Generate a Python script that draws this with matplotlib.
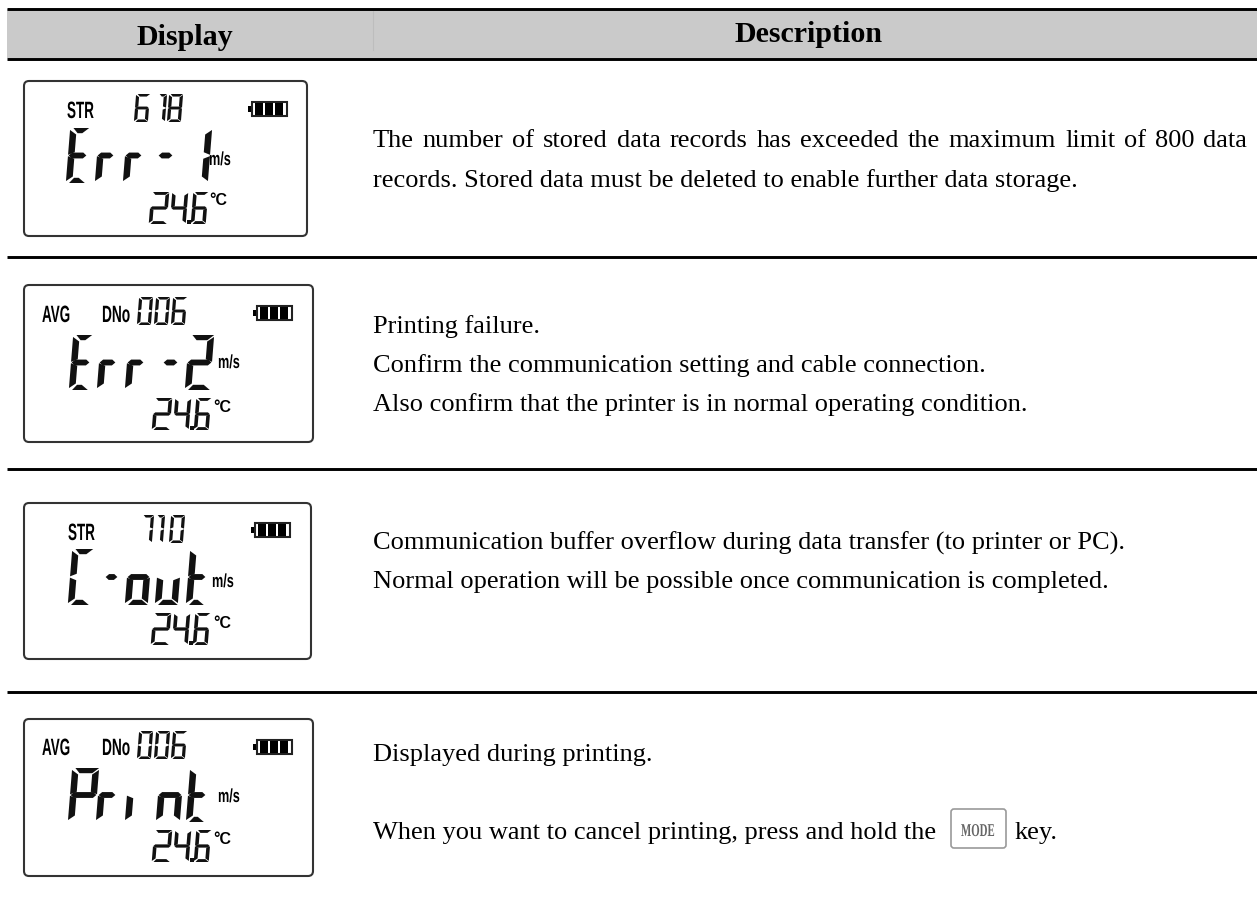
import matplotlib
matplotlib.use('Agg')
from matplotlib import pyplot as plt
from matplotlib.patches import FancyBboxPatch, Rectangle
from matplotlib.patheffects import AbstractPathEffect
from matplotlib.transforms import Affine2D

# table text
headers = ['Display', 'Description']
descriptions = [
    ['The number of stored data records has exceeded the maximum limit of 800 data',
     'records. Stored data must be deleted to enable further data storage.'],
    ['Printing failure.',
     'Confirm the communication setting and cable connection.',
     'Also confirm that the printer is in normal operating condition.'],
    ['Communication buffer overflow during data transfer (to printer or PC).',
     'Normal operation will be possible once communication is completed.'],
    ['Displayed during printing.',
     'When you want to cancel printing, press and hold the'],
]
key_label = 'MODE'
key_tail = 'key.'

# lcd contents
mode_labels = ['STR', 'AVG', 'STR', 'AVG']
dno_labels = ['', 'DNo', '', 'DNo']
top_numbers = ['678', '006', '770', '006']
main_words = ['Err-1', 'Err-2', 'C-out', 'Print']
temperature = '24.6'
unit_speed = 'm/s'
unit_temp = '°C'

# layout in pixels of the picture
line_ys = [9, 58.5, 256.5, 468.5, 691.5]
box_rects = [(24, 81, 283, 155), (24, 285, 289, 157), (24, 503, 287, 156), (24, 719, 289, 157)]
text_baselines = [[147, 187], [333, 372, 411], [550, 588], [761, 839]]
main_xs = [[68, 97, 125, 158, 190], [71, 99, 127, 163, 187], [70, 105, 127, 157, 188], [70, 98, 127, 158, 188]]
main_ws = [[19, 17, 17, 15, 20], [19, 17, 17, 15, 25], [21, 13, 23, 23, 18], [27, 18, 10, 24, 18]]
main_tops = [128, 335, 549, 768]
main_h = [55, 55, 56, 54]
num_xs = [[135, 157, 168], [138, 155, 172], [141, 155, 170], [138, 155, 172]]
num_ws = [[14, 9, 14], [14, 14, 14], [12, 9, 14], [14, 14, 14]]
num_tops = [94, 297, 515, 731]
mode_x = [67, 42, 68, 42]
mode_base = [118, 322, 540, 755]
speed_xy = [(209, 165), (218, 368), (212, 587), (218, 802)]
temp_xs = [[150, 171, 187, 192], [153, 174, 190, 195], [152, 173, 189, 194], [153, 174, 190, 195]]
temp_tops = [192, 398, 613, 830]
deg_xy = [(209, 205), (213, 412), (213, 628), (213, 844)]
batt_xy = [(248, 101), (253, 305), (251, 522), (253, 739)]

SEGS = {'E': 'afged', 'r': 'eg', '-': 'g', '1': 'bc', '2': 'abged', '4': 'fgbc',
        '6': 'afgedc', '5': 'afgcd', '7': 'abc', '8': 'abcdefg', '0': 'abcdef',
        'C': 'afed', 'o': 'gecd', 'u': 'edc', 't': 'fged', 'P': 'abfge',
        'i': 'e', 'n': 'egc'}


class Squeeze(AbstractPathEffect):
    # narrows a text about its left edge, there is no narrow font to use
    def __init__(self, x0, sx):
        super().__init__()
        self.x0 = x0
        self.sx = sx

    def draw_path(self, renderer, gc, tpath, affine, rgbFace=None):
        squeeze = Affine2D().translate(-self.x0, 0).scale(self.sx, 1).translate(self.x0, 0)
        renderer.draw_path(gc, tpath, affine + squeeze, rgbFace)


def seg_points(s, w, h, t):
    m = h / 2
    if s == 'a':
        return [(0.5*t, 0), (w, 0), (w-t, t*0.8), (t*1.2, t*0.8)]
    if s == 'd':
        return [(0.5*t, h), (w, h), (w-t, h-t*0.8), (t*1.2, h-t*0.8)]
    if s == 'g':
        return [(0.1*t, m), (0.6*t, m-t*0.45), (w-0.6*t, m-t*0.45), (w-0.1*t, m), (w-0.6*t, m+t*0.45), (0.6*t, m+t*0.45)]
    if s == 'f':
        return [(0, 0.3*t), (t, 1.0*t), (t, m-0.5*t), (0, m-0.1*t)]
    if s == 'e':
        return [(0, m+0.1*t), (t, m+0.5*t), (t, h-1.0*t), (0, h-0.3*t)]
    if s == 'b':
        return [(w, 0.3*t), (w-t, 1.0*t), (w-t, m-0.5*t), (w, m-0.1*t)]
    return [(w, m+0.1*t), (w-t, m+0.5*t), (w-t, h-1.0*t), (w, h-0.3*t)]


def draw_glyph(ax, ch, x, y, w, h, t, slant=0.08):
    for s in SEGS[ch]:
        pts = seg_points(s, w, h, t)
        xs = [x + p[0] + slant*(h-p[1]) - slant*h*0.5 for p in pts]
        ys = [y + p[1] for p in pts]
        ax.fill(xs, ys, color='#111111', lw=0)


def draw_battery(ax, x, y):
    ax.add_patch(Rectangle((x, y+5), 4, 6, fc='black', ec='none'))
    ax.add_patch(Rectangle((x+4, y+1), 35, 14, fc='white', ec='#222222', lw=1.5))
    for cx in (x+7, x+17, x+27):
        ax.add_patch(Rectangle((cx, y+2), 8, 12, fc='black', ec='none'))


def narrow_text(ax, x, y, s, size, sx, **kw):
    ax.text(x, y, s, size=size, va='baseline', path_effects=[Squeeze(x, sx)], **kw)


fig = plt.figure(figsize=(12.57, 8.99), dpi=100)
ax = fig.add_axes([0, 0, 1, 1])
ax.set_xlim(0, 1257)
ax.set_ylim(899, 0)
ax.axis('off')

serif = 'Liberation Serif'
sans = 'Liberation Sans'
BODY = 19
HEAD = 21.6

# header band and rules
ax.add_patch(Rectangle((7, 9), 1250, 49, fc='#cacaca', ec='none'))
ax.plot([373, 373], [10, 50], color='#bdbdbd', lw=0.8)
for ly in line_ys:
    ax.plot([7, 1257], [ly, ly], color='black', lw=2.1, solid_capstyle='butt')
ax.text(184.5, 45, headers[0], family=serif, weight='bold', size=HEAD, ha='center', va='baseline')
ax.text(809, 42, headers[1], family=serif, weight='bold', size=HEAD, ha='center', va='baseline')

# description text
renderer = fig.canvas.get_renderer()
for r, lines in enumerate(descriptions):
    for l, line in enumerate(lines):
        y = text_baselines[r][l]
        if r == 0 and l == 0:
            # first line is justified to the right edge, so set it word by word
            words = line.split(' ')
            items = [ax.text(373, y, w, family=serif, size=BODY, va='baseline') for w in words]
            widths = [it.get_window_extent(renderer).width for it in items]
            gap = (1247 - 373 - sum(widths)) / (len(words) - 1)
            x = 373
            for it, wd in zip(items, widths):
                it.set_x(x)
                x += wd + gap
        else:
            ax.text(373, y, line, family=serif, size=BODY, va='baseline')

# key symbol
ax.add_patch(FancyBboxPatch((951, 809), 55, 39, boxstyle='round,pad=0,rounding_size=3',
                            fc='white', ec='#9a9a9a', lw=1.2))
narrow_text(ax, 961, 836, key_label, 13, 0.6, family=serif, weight='bold', color='#666666')
ax.text(1015, 839, key_tail, family=serif, size=BODY, va='baseline')

# lcd panels
for i in range(4):
    bx, by, bw, bh = box_rects[i]
    ax.add_patch(FancyBboxPatch((bx, by), bw, bh, boxstyle='round,pad=0,rounding_size=5',
                                fc='white', ec='#333333', lw=1.5))
    narrow_text(ax, mode_x[i], mode_base[i], mode_labels[i], 17, 0.57, family=sans, weight='bold')
    if dno_labels[i]:
        narrow_text(ax, 102, mode_base[i], dno_labels[i], 17, 0.58, family=sans, weight='bold')
    for ch, x, w in zip(top_numbers[i], num_xs[i], num_ws[i]):
        draw_glyph(ax, ch, x, num_tops[i], w, 28, 3.2)
    for ch, x, w in zip(main_words[i], main_xs[i], main_ws[i]):
        draw_glyph(ax, ch, x, main_tops[i], w, main_h[i], 6.5)
    for ch, x, w in zip(temperature, temp_xs[i], [18, 16, 3, 15]):
        if ch == '.':
            ax.add_patch(Rectangle((x, temp_tops[i]+28), 3.5, 4, fc='#111111', ec='none'))
        else:
            draw_glyph(ax, ch, x, temp_tops[i], w, 32, 3.6)
    narrow_text(ax, speed_xy[i][0], speed_xy[i][1], unit_speed, 13.6, 0.67, family=sans, weight='bold')
    ax.text(deg_xy[i][0], deg_xy[i][1], unit_temp, family=sans, weight='bold', size=11.5, va='baseline')
    draw_battery(ax, batt_xy[i][0], batt_xy[i][1])

fig.savefig('out.png', dpi=100)
